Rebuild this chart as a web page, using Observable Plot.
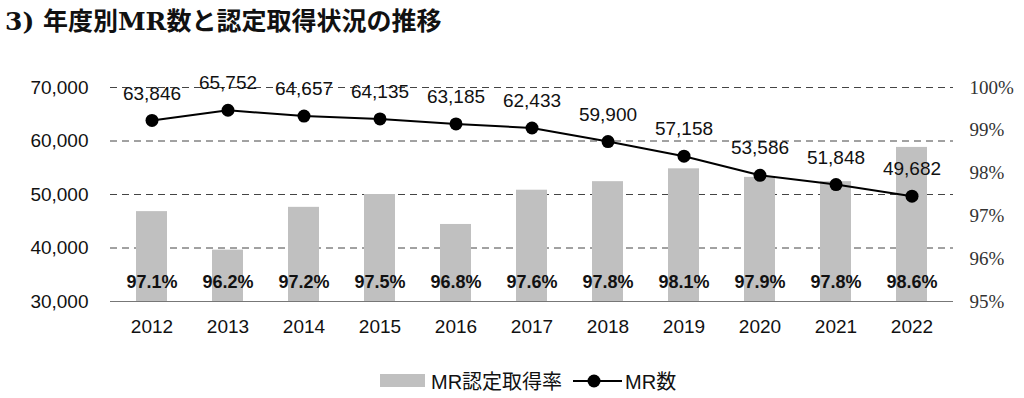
<!DOCTYPE html>
<html><head><meta charset="utf-8">
<script src="https://cdn.jsdelivr.net/npm/d3@7"></script>
<script src="https://cdn.jsdelivr.net/npm/@observablehq/plot@0.6"></script>
<style>
body{margin:0;background:#fff;}
#wrap{position:relative;width:1024px;height:398px;overflow:hidden;font-family:"Liberation Sans",Arial,sans-serif;}
#title{position:absolute;left:5px;top:1px;font-family:"DejaVu Serif","Noto Sans CJK JP",serif;font-weight:bold;font-size:25px;color:#111;white-space:nowrap;}
#chart{position:absolute;left:0;top:40px;}
#legend{position:absolute;top:366px;left:380px;display:flex;align-items:center;font-size:20px;color:#111;font-family:"Liberation Sans","Noto Sans CJK JP",sans-serif;white-space:nowrap;}
.sw{display:inline-block;width:45px;height:13px;background:#c0c0c0;margin-right:6px;}
</style></head>
<body><div id="wrap">
<div id="title">3) 年度別MR数と認定取得状況の推移</div>
<div id="chart"></div>
<div id="legend"><span class="sw"></span><span>MR認定取得率</span><svg width="50" height="20" style="margin-left:11px;margin-right:2px"><line x1="0" y1="10" x2="49" y2="10" stroke="#000" stroke-width="2"/><circle cx="21" cy="10" r="6.5" fill="#000"/></svg><span>MR数</span></div>
</div>
<script>
const years = ["2012","2013","2014","2015","2016","2017","2018","2019","2020","2021","2022"];
const mrCount = [63846,65752,64657,64135,63185,62433,59900,57158,53586,51848,49682];
const certRate = [97.1,96.2,97.2,97.5,96.8,97.6,97.8,98.1,97.9,97.8,98.6];
const leftTicks = [30000,40000,50000,60000,70000];
const rightTicks = [95,96,97,98,99,100];

const data = years.map((y,i)=>({year:y, mr:mrCount[i], rate:certRate[i]}));
// map right-axis percentage onto left-axis domain
const toLeft = p => 30000 + (p-95)*8000;
const fromLeft = v => 95 + (v-30000)/8000;

const sans = "Liberation Sans, Arial, sans-serif";
const chart = Plot.plot({
  width:1024, height:305,
  marginLeft:110, marginRight:71, marginTop:47, marginBottom:44,
  x:{type:"band", domain:years, paddingInner:0.596, paddingOuter:0.287, label:null},
  y:{domain:[30000,70000], label:null},
  style:{fontFamily:sans, fontSize:"19px", color:"#111", background:"transparent"},
  marks:[
    Plot.gridY(leftTicks.slice(1), {stroke:"#444", strokeOpacity:1, strokeDasharray:"7,5", strokeWidth:1}),
    Plot.barY(data, {x:"year", y1:30000, y2:d=>toLeft(d.rate), fill:"#c0c0c0"}),
    Plot.ruleY([30000], {stroke:"#777", strokeWidth:1.2}),
    Plot.axisY(leftTicks, {anchor:"left", tickSize:0, tickPadding:22, fontSize:19, tickFormat:d=>d3.format(",")(d), label:null}),
    Plot.axisY(rightTicks.map(toLeft), {anchor:"right", tickSize:0, tickPadding:16, fontSize:19, fontFamily:"Liberation Serif, DejaVu Serif, serif", fill:"#333", tickFormat:d=>Math.round(fromLeft(d))+"%", label:null}),
    Plot.axisX({tickSize:0, tickPadding:18, fontSize:19, label:null}),
    Plot.text(data, {x:"year", y:30000, dy:-19, text:d=>d.rate.toFixed(1)+"%", fontWeight:"bold", fontSize:18, fontFamily:"Liberation Sans Narrow, Arial Narrow, Liberation Sans, sans-serif", fill:"#111"}),
    Plot.line(data, {x:"year", y:"mr", stroke:"#000", strokeWidth:2}),
    Plot.dot(data, {x:"year", y:"mr", r:6.5, fill:"#000"}),
    Plot.text(data, {x:"year", y:"mr", dy:-27, text:d=>d3.format(",")(d.mr), fontSize:19, fill:"#111"})
  ]
});
document.getElementById("chart").appendChild(chart);
</script>
</body></html>
